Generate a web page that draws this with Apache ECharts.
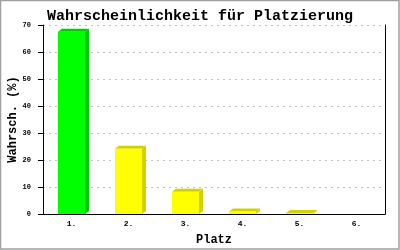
<!DOCTYPE html>
<html><head><meta charset="utf-8">
<script src="https://cdn.jsdelivr.net/npm/echarts@6/dist/echarts.min.js"></script>
<style>html,body{margin:0;padding:0;background:#fff}#c{width:400px;height:250px}</style>
</head><body><div id="c"></div>
<script>
const categories = ['1.', '2.', '3.', '4.', '5.', '6.'];
const values = [67.5, 24.2, 8.2, 0.9, 0.4, 0];
const yTicks = [0, 10, 20, 30, 40, 50, 60, 70];
const chart = echarts.init(document.getElementById('c'));
const font = '"Liberation Mono", "DejaVu Sans Mono", monospace';
const frontCol = i => i === 0 ? '#00ff00' : '#ffff00';
const sideCol = i => i === 0 ? '#00cc00' : '#d4d000';
chart.setOption({
  animation: false,
  backgroundColor: '#fff',
  graphic: [{type: 'rect', shape: {x: 0.5, y: 0.5, width: 398.5, height: 248.5}, style: {fill: 'none', stroke: '#a0a0a0', lineWidth: 1.5}, silent: true, z: 100}],
  title: {text: 'Wahrscheinlichkeit für Platzierung', left: 'center', top: 4,
    textStyle: {fontFamily: font, fontWeight: 'bold', fontSize: 15, color: '#000'}},
  grid: {left: 43, right: 15, top: 25, bottom: 36, outerBoundsMode: 'none', containLabel: false},
  xAxis: {type: 'category', data: categories, name: 'Platz', nameLocation: 'middle', nameGap: 20, nameMoveOverlap: false,
    nameTextStyle: {fontFamily: font, fontWeight: 'bold', fontSize: 12, color: '#000'},
    axisLine: {lineStyle: {color: '#000', width: 1}}, axisTick: {show: false},
    axisLabel: {fontFamily: font, fontSize: 8, fontWeight: 'bold', color: '#000', margin: 6}},
  yAxis: [{type: 'value', min: 0, max: 70, interval: 10, name: 'Wahrsch. (%)', nameLocation: 'middle', nameGap: 24, nameMoveOverlap: false,
    nameTextStyle: {fontFamily: font, fontWeight: 'bold', fontSize: 12, color: '#000'},
    axisLine: {show: true, lineStyle: {color: '#000'}}, axisTick: {show: true, length: 5, lineStyle: {color: '#000'}},
    axisLabel: {fontFamily: font, fontSize: 7, fontWeight: 'bold', color: '#000', margin: 12, formatter: v => yTicks.includes(v) ? String(v) : ''},
    splitLine: {lineStyle: {color: '#c0c0c0', type: [2, 4]}}},
    {type: 'value', min: 0, max: 70, position: 'right', axisLine: {show: true, lineStyle: {color: '#000'}},
     axisTick: {show: false}, axisLabel: {show: false}, splitLine: {show: false}}],
  series: [{type: 'custom', data: values.map((v, i) => [i, v]),
    renderItem: (params, api) => {
      const i = api.value(0), v = api.value(1);
      if (v <= 0) return null;
      const base = api.coord([i, 0]);
      const top = api.coord([i, v]);
      const w = 27, dx = 4, dy = 3;
      const x0 = base[0] - w / 2, x1 = base[0] + w / 2;
      const y0 = base[1], y1 = top[1];
      return {type: 'group', children: [
        {type: 'polygon', shape: {points: [[x1, y0], [x1 + dx, y0 - dy], [x1 + dx, y1 - dy], [x1, y1]]}, style: {fill: sideCol(i)}},
        {type: 'polygon', shape: {points: [[x0, y1], [x0 + dx, y1 - dy], [x1 + dx, y1 - dy], [x1, y1]]}, style: {fill: sideCol(i)}},
        {type: 'rect', shape: {x: x0, y: y1, width: w, height: y0 - y1}, style: {fill: frontCol(i)}}
      ]};
    }, z: 5}]
});
</script></body></html>
